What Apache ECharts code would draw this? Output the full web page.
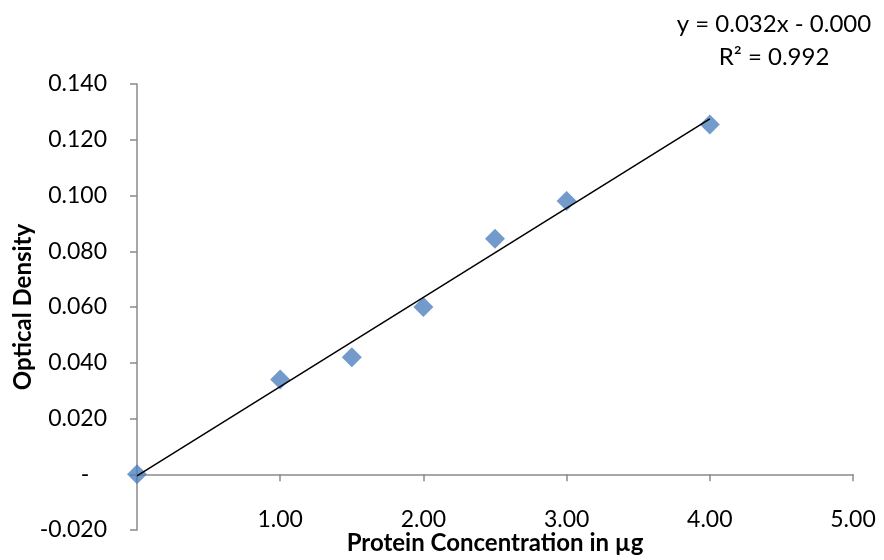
<!DOCTYPE html>
<html>
<head>
<meta charset="utf-8">
<script src="https://cdn.jsdelivr.net/npm/echarts@6/dist/echarts.min.js"></script>
<style>
  html, body { margin: 0; padding: 0; background: #fff; }
  #main { width: 884px; height: 560px; }
</style>
</head>
<body>
<div id="main"></div>
<script>
// protein standard curve
var concentration = [0, 1, 1.5, 2, 2.5, 3, 4];
var density = [0, 0.034, 0.042, 0.060, 0.0845, 0.098, 0.1255];
var xTicks = [0, 1, 2, 3, 4, 5];
var yTicks = [-0.02, 0, 0.02, 0.04, 0.06, 0.08, 0.10, 0.12, 0.14];
var trendLabels = ['y = 0.032x - 0.000', 'R\u00b2 = 0.992'];

// least squares trendline, like the spreadsheet does
var n = concentration.length;
var mx = concentration.reduce(function (a, b) { return a + b; }, 0) / n;
var my = density.reduce(function (a, b) { return a + b; }, 0) / n;
var sxy = 0, sxx = 0;
for (var i = 0; i < n; i++) {
  sxy += (concentration[i] - mx) * (density[i] - my);
  sxx += (concentration[i] - mx) * (concentration[i] - mx);
}
var slope = sxy / sxx;
var intercept = my - slope * mx;
var xEnd = concentration[n - 1];

var font = 'Lato';
var axisGray = '#8a8a8a';

var chart = echarts.init(document.getElementById('main'));
var option = {
  backgroundColor: '#fff',
  animation: false,
  textStyle: { fontFamily: font },
  grid: { left: 137, right: 31, top: 84, bottom: 30, containLabel: false, outerBoundsMode: 'none' },
  graphic: [
    { type: 'text', x: 774, y: 24, style: { text: trendLabels[0], font: '24px Lato', fill: '#000', align: 'center', verticalAlign: 'middle' } },
    { type: 'text', x: 774, y: 57, style: { text: trendLabels[1], font: '24px Lato', fill: '#000', align: 'center', verticalAlign: 'middle' } }
  ],
  xAxis: [
    {
      type: 'value',
      min: xTicks[0],
      max: xTicks[xTicks.length - 1],
      interval: 1,
      position: 'bottom',
      axisLine: { onZero: true, lineStyle: { color: axisGray, width: 1.5 } },
      axisTick: { show: true, inside: false, length: 7, lineStyle: { color: axisGray, width: 1.5 } },
      axisLabel: { show: false },
      splitLine: { show: false }
    },
    {
      type: 'value',
      min: xTicks[0],
      max: xTicks[xTicks.length - 1],
      interval: 1,
      position: 'bottom',
      axisLine: { show: false, onZero: false },
      axisTick: { show: false },
      splitLine: { show: false },
      axisLabel: {
        margin: -22,
        fontSize: 23,
        fontFamily: font,
        color: '#000',
        formatter: function (v) { return v === 0 ? '' : v.toFixed(2); }
      },
      name: 'Protein Concentration in \u00b5g',
      nameLocation: 'middle',
      nameGap: 1,
      nameMoveOverlap: false,
      nameTextStyle: { fontSize: 24, fontWeight: 'bold', fontFamily: font, color: '#000' }
    }
  ],
  yAxis: {
    type: 'value',
    min: yTicks[0],
    max: yTicks[yTicks.length - 1],
    interval: 0.02,
    axisLine: { show: true, onZero: false, lineStyle: { color: axisGray, width: 1.5 } },
    axisTick: { show: true, length: 7, lineStyle: { color: axisGray, width: 1.5 } },
    splitLine: { show: false },
    axisLabel: {
      margin: 30,
      fontSize: 23,
      fontFamily: font,
      color: '#000',
      formatter: function (v) { return Math.abs(v) < 1e-9 ? '-   ' : v.toFixed(3); }
    },
    name: 'Optical Density',
    nameLocation: 'middle',
    nameGap: 102,
    nameMoveOverlap: false,
    nameTextStyle: { fontSize: 24, fontWeight: 'bold', fontFamily: font, color: '#000' }
  },
  series: [
    {
      type: 'scatter',
      xAxisIndex: 0,
      symbol: 'diamond',
      symbolSize: 20,
      itemStyle: { color: '#4F81BD' },
      data: concentration.map(function (x, i) { return [x, density[i]]; }),
      z: 2
    },
    {
      type: 'line',
      xAxisIndex: 0,
      showSymbol: false,
      symbol: 'none',
      lineStyle: { color: '#000', width: 1.5 },
      data: [[0, intercept], [xEnd, slope * xEnd + intercept]],
      z: 3
    }
  ]
};
chart.setOption(option);
</script>
</body>
</html>
